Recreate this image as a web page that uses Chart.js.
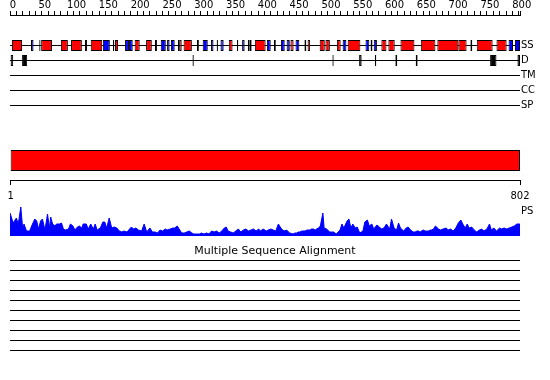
<!DOCTYPE html>
<html>
<head>
<meta charset="utf-8">
<script src="https://cdn.jsdelivr.net/npm/chart.js@4/dist/chart.umd.min.js"></script>
<style>
  html, body { margin: 0; padding: 0; background: #fff; }
  canvas { display: block; }
</style>
</head>
<body>
<canvas id="map" width="550" height="380"></canvas>
<script>
// sequence length (residues)
const seqLength = 802;

// secondary structure: helix (red) and strand (blue), residue ranges
const helices = [[3,19],[49,66],[80,91],[96,113],[118,121],[127,145],[165,170],[196,204],[214,223],[266,270],
  [273,286],[344,350],[357,359],[377,380],[385,402],[441,446],[468,472],[487,495],[496,503],[514,520],
  [531,551],[584,592],[595,605],[614,636],[646,669],[672,705],[705,718],[724,727],[734,759],[765,781]];
const strands = [[33,37],[46,48],[146,157],[162,164],[181,187],[187,193],[228,231],[237,245],[247,251],[253,259],
  [264,266],[294,297],[303,311],[316,320],[325,327],[331,336],[365,369],[374,377],[404,410],[415,418],
  [426,432],[435,440],[449,455],[463,466],[523,529],[559,565],[567,570],[572,577],[784,791],[794,802]];

// disordered regions
const disorder = [[1,5],[19,27],[287,289],[507,509],[549,553],[574,576],[606,609],[638,641],[755,765],[798,802]];

// domain bar
const domains = [[1, 802]];

// PS profile: residue and score
const psRes = [0,5,10,13,17,20,22,26,31,34,39,42,45,48,51,55,59,62,64,67,71,73,78,81,84,87,92,95,99,102,
  106,109,113,115,120,123,127,131,134,137,142,146,149,152,156,160,164,168,172,176,179,184,188,191,194,198,
  202,207,211,215,220,224,228,232,236,240,244,247,252,256,259,263,266,270,274,278,282,286,289,294,298,301,
  305,309,313,317,321,325,329,333,337,340,343,347,351,355,359,363,367,371,375,379,383,387,391,394,398,403,
  406,410,414,418,
  422,427,431,435,438,440,445,448,451,453,456,459,461,464,467,469,472,474,477,480,482,485,488,492,494,498,
  501,503,506,509,513,516,519,522,525,530,533,536,539,543,546,550,555,558,562,565,569,572,577,581,584,588,
  592,597,600,604,608,611,614,619,623,626,630,634,637,640,642,645,647,650,653,655,658,661,663,666,669,674,
  677,681,686,689,693,697,701,705,709,712,716,719,722,726,730,734,738,742,745,750,754,757,761,765,770,773,
  777,781,785,789,793,797,801,802];
const psVal = [23,13,18,12,29,7,12,5,5,10,17,15,7,15,17,6,22,8,19,12,10,12,12,13,7,6,7,12,10,6,
  9,10,8,12,12,7,12,7,12,6,8,14,14,8,18,8,9,8,5,4,5,4,7,9,7,8,
  6,5,12,4,8,4,4,3,6,5,7,6,7,8,8,10,7,3,3,4,5,3,2,2,2,3,
  2,3,2,5,4,5,3,5,8,9,5,4,3,5,7,4,6,7,5,6,7,5,7,5,7,5,
  6,7,6,5,
  12,7,5,6,4,3,2,3,3,4,4,5,5,5,6,6,6,7,7,6,7,8,10,23,8,7,
  5,4,4,4,2,4,6,12,8,15,17,8,12,8,9,3,5,14,16,10,12,7,11,9,7,8,
  12,7,17,8,6,13,8,5,8,9,6,4,4,5,5,4,5,6,5,5,5,6,6,7,10,7,
  6,7,8,6,7,5,8,13,16,12,8,12,8,9,6,4,6,7,5,7,12,6,8,5,8,7,
  8,7,8,9,10,12,12,12];

// labels
const rowNames = ['SS', 'D', 'TM', 'CC', 'SP', 'PS'];
const rulerTicks = [1, 802];
const msaTitle = 'Multiple Sequence Alignment';
const msaRows = 10;

// layout (canvas pixel rows)
const plotTop = 15, plotBottom = 380;
const rowY = {SS: 45.5, D: 60.5, TM: 75.5, CC: 90.5, SP: 105.5, PS: 211};
const domainY = 160.5;
const rulerY = 180.5;
const psBase = 236;
const msaTitleY = 251;
const msaTop = 260.5, msaGap = 10;

Chart.defaults.font.family = '"DejaVu Sans", sans-serif';
Chart.defaults.font.size = 10;
Chart.defaults.color = '#000';

function boxes(ranges, y, color, thick) {
  return {
    type: 'bar', indexAxis: 'y', grouped: false, order: 0,
    xAxisID: 'x', yAxisID: 'y',
    data: ranges.map(r => ({x: r, y: y})),
    backgroundColor: color, borderColor: '#000', borderWidth: 1,
    borderSkipped: false, inflateAmount: 0, barThickness: thick
  };
}

function rule(y) {
  return {
    type: 'line', order: 1, xAxisID: 'x', yAxisID: 'y',
    data: [{x: 0, y: y}, {x: seqLength, y: y}],
    borderColor: '#000', borderWidth: 1, pointRadius: 0
  };
}

const ruleYs = [rowY.SS, rowY.D, rowY.TM, rowY.CC, rowY.SP];
for (let i = 0; i < msaRows; i++) ruleYs.push(msaTop + i * msaGap);

const datasets = [
  boxes(helices, rowY.SS, '#ff0000', 11),
  boxes(strands, rowY.SS, '#0000ff', 11),
  boxes(disorder, rowY.D, '#000000', 11),
  boxes(domains, domainY, '#ff0000', 21),
  {
    type: 'line', order: 1, xAxisID: 'x', yAxisID: 'yPS',
    data: psRes.map((r, i) => ({x: r, y: psVal[i]})),
    borderColor: '#0000ff', backgroundColor: '#0000ff', borderWidth: 1,
    pointRadius: 0, tension: 0, fill: 'origin'
  }
].concat(ruleYs.map(rule));

const msaTitlePlugin = {
  id: 'msaTitle',
  afterDraw(chart) {
    const ctx = chart.ctx;
    ctx.save();
    ctx.font = '11px "DejaVu Sans"';
    ctx.fillStyle = '#000';
    ctx.textAlign = 'center';
    ctx.textBaseline = 'middle';
    ctx.fillText(msaTitle, chart.width / 2, chart.scales.y.getPixelForValue(msaTitleY));
    ctx.restore();
  }
};

new Chart(document.getElementById('map'), {
  type: 'line',
  data: { datasets: datasets },
  plugins: [msaTitlePlugin],
  options: {
    responsive: false,
    animation: false,
    events: [],
    layout: { padding: { left: 10, right: 0, top: 0, bottom: 0 } },
    plugins: { legend: { display: false }, tooltip: { enabled: false } },
    scales: {
      y: {
        type: 'linear', position: 'right', reverse: true, offset: false,
        min: plotTop, max: plotBottom, bounds: 'data',
        afterFit: s => { s.width = 30; s.paddingTop = 0; s.paddingBottom = 0; },
        afterBuildTicks: s => { s.ticks = rowNames.map(n => ({value: rowY[n]})); },
        ticks: { autoSkip: false, padding: 1, callback: (v, i) => rowNames[i] },
        grid: { offset: false, drawOnChartArea: false, drawTicks: false },
        border: { display: false }
      },
      yPS: {
        type: 'linear', display: false, bounds: 'data', offset: false,
        min: psBase - plotBottom, max: psBase - plotTop
      },
      x: {
        type: 'linear', position: 'top', min: 0, max: seqLength,
        bounds: 'data', offset: false,
        afterFit: s => { s.height = plotTop; },
        ticks: {
          stepSize: 10, includeBounds: false, autoSkip: false,
          maxRotation: 0, minRotation: 0, padding: 0, labelOffset: 3,
          callback: v => (v % 50 === 0 ? v : '')
        },
        grid: { drawOnChartArea: false, tickLength: 4, color: '#000' },
        border: { color: '#000' }
      },
      x2: {
        type: 'linear', axis: 'x', position: { y: rulerY },
        min: 0, max: seqLength, bounds: 'data', offset: false,
        // drawn inside the plot, so it takes no layout room
        afterFit: s => { s.height = 0; s.paddingLeft = 0; s.paddingRight = 0; },
        afterBuildTicks: s => { s.ticks = rulerTicks.map(v => ({value: v})); },
        ticks: { autoSkip: false, maxRotation: 0, padding: 6 },
        grid: { drawOnChartArea: false, tickLength: 4, color: '#000' },
        border: { color: '#000' }
      }
    }
  }
});
</script>
</body>
</html>
